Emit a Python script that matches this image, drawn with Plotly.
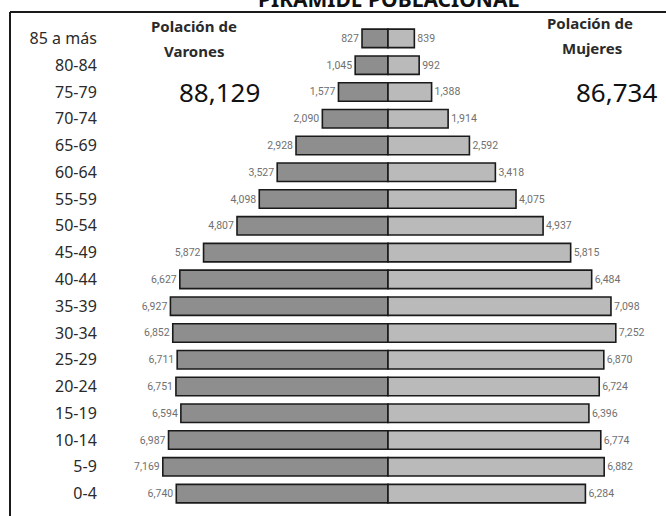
import plotly.graph_objects as go

age_groups = ["0-4", "5-9", "10-14", "15-19", "20-24", "25-29", "30-34", "35-39",
              "40-44", "45-49", "50-54", "55-59", "60-64", "65-69", "70-74",
              "75-79", "80-84", "85 a más"]
varones = [6740, 7169, 6987, 6594, 6751, 6711, 6852, 6927, 6627, 5872, 4807,
           4098, 3527, 2928, 2090, 1577, 1045, 827]
mujeres = [6284, 6882, 6774, 6396, 6724, 6870, 7252, 7098, 6484, 5815, 4937,
           4075, 3418, 2592, 1914, 1388, 992, 839]
total_varones = "88,129"
total_mujeres = "86,734"
title_text = "PIRÁMIDE POBLACIONAL"

W, H = 666, 516
L, R, T, B = 110, 0, 25, 9
PW, PH = W - L - R, H - T - B


def px(x):
    return (x - L) / PW


def py(y):
    return (H - B - y) / PH


fig = go.Figure()
fig.add_trace(go.Bar(
    y=age_groups, x=[-v for v in varones], orientation="h",
    marker=dict(color="#8e8e8e", line=dict(color="#1a1a1a", width=1.6)),
    text=[f"{v:,}" for v in varones], textposition="outside",
    textfont=dict(family="Roboto", size=10.5, color="#707070"),
    cliponaxis=False, name="Varones",
))
fig.add_trace(go.Bar(
    y=age_groups, x=mujeres, orientation="h",
    marker=dict(color="#bababa", line=dict(color="#1a1a1a", width=1.6)),
    text=[f"{v:,}" for v in mujeres], textposition="outside",
    textfont=dict(family="Roboto", size=10.5, color="#707070"),
    cliponaxis=False, name="Mujeres",
))

RNG = 8850
fig.update_layout(
    width=W, height=H, barmode="relative", bargap=0.31,
    margin=dict(l=L, r=R, t=T, b=B, autoexpand=False),
    paper_bgcolor="white", plot_bgcolor="white",
    showlegend=False,
    font=dict(family="Noto Sans", color="#2a2a2a"),
    xaxis=dict(range=[-RNG, RNG], visible=False, fixedrange=True),
    yaxis=dict(categoryorder="array", categoryarray=age_groups,
               range=[-0.5, len(age_groups) - 0.5], automargin=False,
               showgrid=False, showline=False, zeroline=False,
               ticks="outside", ticklen=9, tickcolor="rgba(0,0,0,0)",
               tickfont=dict(family="Noto Sans", size=16, color="#2a2a2a")),
)

# frame
fig.add_shape(type="line", xref="paper", yref="paper",
              x0=px(10), x1=px(670), y0=py(12), y1=py(12),
              line=dict(color="#1a1a1a", width=2))
fig.add_shape(type="line", xref="paper", yref="paper",
              x0=px(10), x1=px(10), y0=py(12), y1=py(520),
              line=dict(color="#1a1a1a", width=2))

ann = [
    (title_text, 388, -1, 21, True, "#111111"),
    ("Polación de", 194, 26, 15, True, "#2a2a2a"),
    ("Varones", 194, 51, 15, True, "#2a2a2a"),
    (total_varones, 219, 92, 26, False, "#111111"),
    ("Polación de", 590, 23, 15, True, "#2a2a2a"),
    ("Mujeres", 592, 48, 15, True, "#2a2a2a"),
    (total_mujeres, 616, 92, 26, False, "#111111"),
]
for txt, x, y, size, bold, col in ann:
    fig.add_annotation(
        text=f"<b>{txt}</b>" if bold else txt,
        xref="paper", yref="paper", x=px(x), y=py(y),
        xanchor="center", yanchor="middle", showarrow=False,
        font=dict(family="Noto Sans", size=size, color=col),
    )

fig.write_html("out.html", config={"displayModeBar": False},
               post_script="document.body.style.margin='0';document.body.style.overflow='hidden';")
